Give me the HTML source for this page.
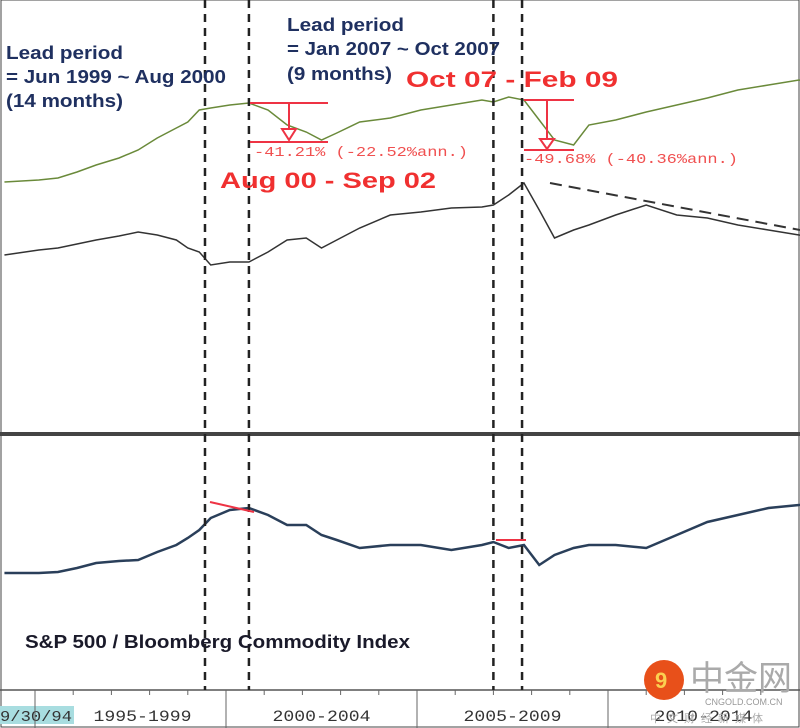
<!DOCTYPE html>
<html><head><meta charset="utf-8"><style>
body{margin:0;background:#fff;width:800px;height:728px;overflow:hidden;font-family:"Liberation Sans",sans-serif}
svg{display:block}
</style></head><body>
<svg id="c" width="800" height="728">
<rect x="1" y="0" width="798" height="727" fill="#fff" stroke="#444" stroke-width="1"/>
<line x1="0" y1="434" x2="800" y2="434" stroke="#444" stroke-width="4"/>
<line x1="0" y1="690" x2="800" y2="690" stroke="#555" stroke-width="1.5"/>
<g id="marks"></g>
<g font-weight="bold" fill="#1f3060" font-size="18" lengthAdjust="spacingAndGlyphs">
<text x="6" y="59" textLength="117" lengthAdjust="spacingAndGlyphs">Lead period</text>
<text x="6" y="83" textLength="220" lengthAdjust="spacingAndGlyphs">= Jun 1999 ~ Aug 2000</text>
<text x="6" y="107" textLength="117" lengthAdjust="spacingAndGlyphs">(14 months)</text>
<text x="287" y="31" textLength="117" lengthAdjust="spacingAndGlyphs">Lead period</text>
<text x="287" y="55" textLength="213" lengthAdjust="spacingAndGlyphs">= Jan 2007 ~ Oct 2007</text>
<text x="287" y="80" textLength="105" lengthAdjust="spacingAndGlyphs">(9 months)</text>
</g>
<g font-weight="bold" fill="#f03030" font-size="22">
<text x="406" y="87" textLength="212" lengthAdjust="spacingAndGlyphs">Oct 07 - Feb 09</text>
<text x="220" y="188" textLength="216" lengthAdjust="spacingAndGlyphs">Aug 00 - Sep 02</text>
</g>
<g fill="#f05050" font-size="14" font-family="Liberation Mono,monospace">
<text x="254" y="156" textLength="214" lengthAdjust="spacingAndGlyphs">-41.21% (-22.52%ann.)</text>
<text x="524" y="163" textLength="214" lengthAdjust="spacingAndGlyphs">-49.68% (-40.36%ann.)</text>
</g>
<g stroke="#ee3344" stroke-width="2" fill="none">
<line x1="250" y1="103" x2="328" y2="103"/><line x1="289" y1="103" x2="289" y2="128"/><polygon points="282,129 296,129 289,140" fill="#fff"/><line x1="250" y1="142" x2="328" y2="142"/>
<line x1="524" y1="100" x2="574" y2="100"/><line x1="547" y1="100" x2="547" y2="138"/><polygon points="540,139 554,139 547,149" fill="#fff"/><line x1="524" y1="150" x2="574" y2="150"/>
<line x1="210" y1="502" x2="254" y2="512"/><line x1="496" y1="540" x2="526" y2="540"/>
</g>
<line x1="550" y1="183" x2="800" y2="230" stroke="#333" stroke-width="2" stroke-dasharray="12,7"/>
<text x="25" y="648" font-weight="bold" font-size="18" fill="#1a1a2a" textLength="385" lengthAdjust="spacingAndGlyphs">S&amp;P 500 / Bloomberg Commodity Index</text>
<rect x="0" y="706" width="74" height="18" fill="#a8dde0"/>
<g font-family="Liberation Mono,monospace" font-size="15" fill="#333">
<text x="0" y="721" textLength="72" lengthAdjust="spacingAndGlyphs">9/30/94</text>
</g>
<g id="xaxis" font-family="Liberation Mono,monospace" font-size="16" fill="#333"></g>
<g>
<circle cx="664" cy="680" r="20" fill="#e8501a"/><text x="655" y="688" font-size="22" fill="#fbd050" font-weight="bold">9</text>
<text x="690" y="690" font-family="Noto Sans CJK SC,sans-serif" font-size="34" fill="#aaa">中金网</text>
<text x="705" y="705" font-size="9" fill="#999">CNGOLD.COM.CN</text>
<text x="650" y="722" font-family="Noto Sans CJK SC,sans-serif" font-size="11" fill="#aaa" letter-spacing="6">中文财经新媒体</text>
</g>
</svg>
<script>
const years=[1994.2,1995.1,1995.6,1996.1,1996.6,1997.2,1997.7,1998.2,1998.7,1999.0,1999.3,1999.6,2000.1,2000.6,2001.1,2001.6,2002.1,2002.5,2002.9,2003.5,2004.3,2005.1,2005.9,2006.7,2007.0,2007.4,2007.8,2008.2,2008.6,2009.1,2009.5,2010.2,2011.0,2011.8,2012.6,2013.4,2014.2,2015.0,2015.5,2016.1];
const spx=[18,20,22,28,35,42,50,62,72,78,90,92,95,97,90,75,68,60,67,78,82,90,95,100,98,103,100,80,60,55,75,80,88,95,102,110,115,120,118,115];
const commodityInv=[45,50,52,56,60,64,68,65,60,52,48,35,38,38,48,60,62,52,60,72,85,88,92,93,95,105,117,90,62,70,75,85,95,85,82,75,70,65,62,58];
const ratio=[27,27,28,32,37,39,40,48,55,62,70,82,90,92,85,75,75,65,60,52,55,55,50,55,58,52,55,35,45,52,55,55,52,65,78,85,92,95,98,100];
const axisLabels=["1995-1999","2000-2004","2005-2009","2010-2014"];
const axisStarts=[1995,2000,2005,2010];
const leadLines=[1999.45,2000.6,2007.0,2007.75];
const X=y=>35+(y-1995)*38.2;
const Yg=v=>200-v, Yb=v=>300-v, Yr=v=>600-v;
const ns="http://www.w3.org/2000/svg";
const marks=document.getElementById('marks');
function line(vals,Y,col,w,name){
 const p=document.createElementNS(ns,'polyline');
 p.setAttribute('points',years.map((y,i)=>X(y)+','+Y(vals[i])).join(' '));
 p.setAttribute('fill','none');p.setAttribute('stroke',col);p.setAttribute('stroke-width',w);
 
 
 marks.appendChild(p);
}
line(spx,Yg,'#6a8a3a',1.5,'sp500-line');
line(commodityInv,Yb,'#333',1.5,'commodity-line');
line(ratio,Yr,'#2a3f5a',2.5,'ratio-line');
leadLines.forEach(y=>{
 const l=document.createElementNS(ns,'line');
 l.setAttribute('x1',X(y));l.setAttribute('x2',X(y));l.setAttribute('y1',0);l.setAttribute('y2',690);
 l.setAttribute('stroke','#222');l.setAttribute('stroke-width',2.5);l.setAttribute('stroke-dasharray','8,6');
 
 
 marks.appendChild(l);
});
const xa=document.getElementById('xaxis');
axisStarts.forEach((s,i)=>{
 const x0=X(s);
 const t=document.createElementNS(ns,'line');
 t.setAttribute('x1',x0);t.setAttribute('x2',x0);t.setAttribute('y1',690);t.setAttribute('y2',728);t.setAttribute('stroke','#666');
 
 
 xa.appendChild(t);
 for(let k=1;k<5;k++){const m=document.createElementNS(ns,'line');const xm=X(s+k);
  m.setAttribute('x1',xm);m.setAttribute('x2',xm);m.setAttribute('y1',690);m.setAttribute('y2',695);m.setAttribute('stroke','#666');
  
  
  xa.appendChild(m);}
 const tx=document.createElementNS(ns,'text');
 tx.setAttribute('x',X(s+2.5)+(i==0?12:0));tx.setAttribute('y',721);tx.setAttribute('text-anchor','middle');
 tx.setAttribute('textLength',98);tx.setAttribute('lengthAdjust','spacingAndGlyphs');
 tx.textContent=axisLabels[i];
 
 
 xa.appendChild(tx);
});
</script>
</body></html>
